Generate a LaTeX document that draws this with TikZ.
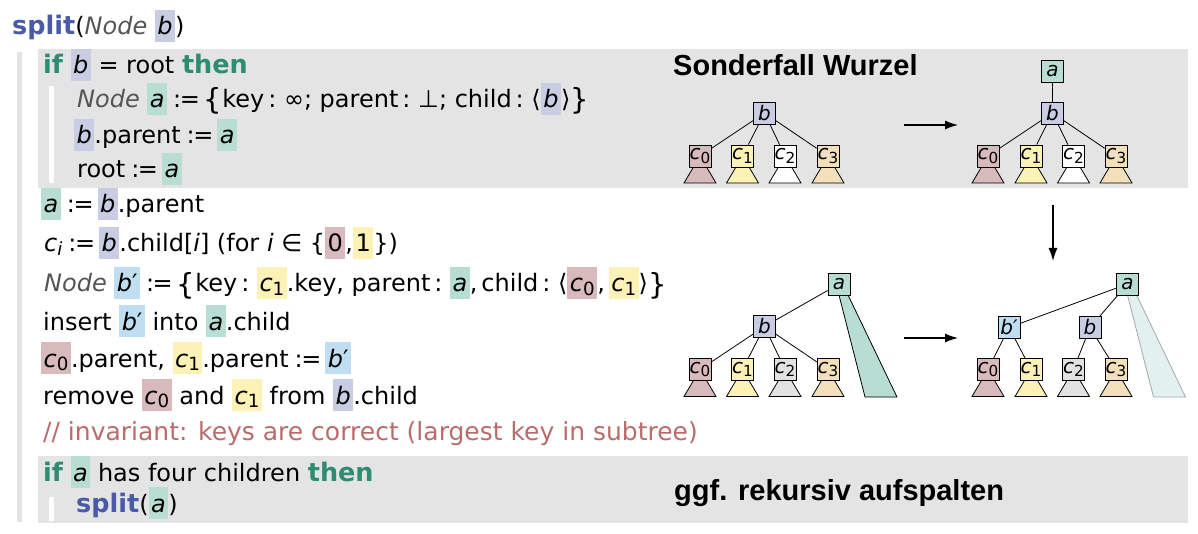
\documentclass[tikz,border=0pt]{standalone}
\usepackage{fontspec}
\usepackage{graphicx}
\setmainfont{DejaVu Sans}
\newfontfamily\titlefont{Liberation Sans}
\usetikzlibrary{arrows.meta,calc}
\definecolor{hlb}{RGB}{200,205,228}
\definecolor{hla}{RGB}{184,222,212}
\definecolor{hlcz}{RGB}{216,186,188}
\definecolor{hlco}{RGB}{252,242,182}
\definecolor{hlct}{RGB}{226,226,226}
\definecolor{hlch}{RGB}{243,223,186}
\definecolor{hlbp}{RGB}{192,222,242}
\definecolor{fadetri}{RGB}{226,240,240}
\definecolor{fadeline}{RGB}{165,170,170}
\definecolor{boxgray}{RGB}{228,228,228}
\definecolor{kwteal}{RGB}{46,140,112}
\definecolor{kwblue}{RGB}{72,90,168}
\definecolor{cmtred}{RGB}{186,108,108}
\definecolor{nodegray}{RGB}{85,85,85}
\newcommand\hl[2]{{\setlength{\fboxsep}{0pt}\colorbox{#1}{\rule[-7pt]{0pt}{32pt}\kern2.5pt#2\kern2.5pt}}}
\newcommand\lowidx[1]{\raisebox{-0.3ex}{\scalebox{0.76}{\upshape #1}}}
\newcommand\kwg[1]{{\fontsize{25.5}{28}\selectfont\bfseries\color{kwteal}#1}}
\newcommand\kwb[1]{{\fontsize{25.5}{28}\selectfont\bfseries\color{kwblue}#1}}
\newcommand\nodekw{{\color{nodegray}\itshape Node}}
\newcommand\assign{\hspace{6pt}:\hspace{-1.5pt}=\hspace{4pt}}
\newcommand\lbr{{\raisebox{-2pt}{\fontsize{29}{29}\selectfont\{}}}
\newcommand\rbr{{\raisebox{-2pt}{\fontsize{29}{29}\selectfont\}}}}
\newcommand\va{\textit{a}}
\newcommand\vb{\textit{b}}
\newcommand\vbp{\textit{b}′}
\newcommand\vc[1]{\textit{c}\lowidx{#1}}
\newcommand\kid[6]{%
  \filldraw[fill=#5,draw=black,line width=0.8pt] (#2,#3) -- ++(-16,27) -- ++(32,0) -- cycle;
  \node[tnode,fill=#4] (#1) at (#2,#3) {#6};}
\begin{document}
\begin{tikzpicture}[x=1pt,y=-1pt,
  code/.style={anchor=base west,inner sep=0pt,font=\fontsize{24}{28}\selectfont},
  ttl/.style={anchor=base west,inner sep=0pt,font=\fontsize{29}{32}\selectfont\titlefont\bfseries},
  tnode/.style={draw=black,line width=0.8pt,minimum width=22pt,minimum height=22pt,inner sep=0pt,font=\fontsize{20}{20}\selectfont\itshape},
  tedge/.style={line width=0.8pt},
  arr/.style={line width=1.3pt,-{Latex[length=13pt,width=9pt]}}]
\useasboundingbox (0,0) rectangle (1198,534);
\fill[white] (0,0) rectangle (1198,534);
% boxes and bars
\fill[boxgray] (38,49) rectangle (1188,188);
\fill[boxgray] (38,456) rectangle (1188,523);
\fill[boxgray] (17,52) rectangle (22,522);
\fill[white] (49,86) rectangle (54,183);
\fill[white] (49,497) rectangle (54,521);
% code lines
\node[code] (l0) at (12,35) {\kwb{split}(\nodekw\ \hl{hlb}{\vb})};
\node[code] (l1) at (43,74) {\kwg{if} \hl{hlb}{\vb} = root \kwg{then}};
\node[code] (l2) at (77,108) {\nodekw\ \hl{hla}{\va}\assign\lbr key\,:\ ∞; parent\,:\ ⊥; child\,:\ ⟨\hl{hlb}{\vb}⟩\rbr};
\node[code] (l3) at (74,144) {\hl{hlb}{\vb}.parent\assign\hl{hla}{\va}};
\node[code] (l4) at (77,178) {root\assign\hl{hla}{\va}};
\node[code] (l5) at (41,213) {\hl{hla}{\va}\assign\hl{hlb}{\vb}.parent};
\node[code] (l6) at (44,252) {\vc{\textit{i}}\assign\hl{hlb}{\vb}.child[\textit{i}] (for \textit{i} ∈ \{\hl{hlcz}{0},\hl{hlco}{1}\})};
\node[code] (l7) at (44,292) {\nodekw\ \hl{hlbp}{\vbp}\assign\lbr key\,:\ \hl{hlco}{\vc{1}}.key, parent\,:\ \hl{hla}{\va},\,child\,:\ ⟨\hl{hlcz}{\vc{0}},\,\hl{hlco}{\vc{1}}⟩\rbr};
\node[code] (l8) at (43,330) {insert \hl{hlbp}{\vbp} into \hl{hla}{\va}.child};
\node[code] (l9) at (41,367) {\hl{hlcz}{\vc{0}}.parent, \hl{hlco}{\vc{1}}.parent\assign\hl{hlbp}{\vbp}};
\node[code] (l10) at (43,404) {remove \hl{hlcz}{\vc{0}} and \hl{hlco}{\vc{1}} from \hl{hlb}{\vb}.child};
\node[code,font=\fontsize{25}{28}\selectfont,text=cmtred] (l11) at (43,440) {// invariant: keys are correct (largest key in subtree)};
\node[code] (l12) at (43,481) {\kwg{if} \hl{hla}{\va} has four children \kwg{then}};
\node[code] (l13) at (76,512) {\kwb{split}(\hl{hla}{\va})};
% titles
\node[ttl] (t1) at (673,76) {Sonderfall Wurzel};
\node[ttl] (t2) at (674,500) {ggf. rekursiv aufspalten};
% tree 1: top left
\kid{A0}{700}{156}{hlcz}{hlcz}{\vc{0}}
\kid{A1}{742.5}{156}{hlco}{hlco}{\vc{1}}
\kid{A2}{785}{156}{white}{white}{\vc{2}}
\kid{A3}{828}{156}{hlch}{hlch}{\vc{3}}
\node[tnode,fill=hlb] (Ab) at (764.5,113) {b};
\foreach \k in {A0,A1,A2,A3} \draw[tedge] (Ab) -- (\k);
% tree 2: top right
\kid{B0}{988}{156}{hlcz}{hlcz}{\vc{0}}
\kid{B1}{1031}{156}{hlco}{hlco}{\vc{1}}
\kid{B2}{1073.5}{156}{white}{white}{\vc{2}}
\kid{B3}{1116}{156}{hlch}{hlch}{\vc{3}}
\node[tnode,fill=hlb] (Bb) at (1052.5,113) {b};
\node[tnode,fill=hla] (Ba) at (1052.5,71) {a};
\foreach \k in {B0,B1,B2,B3} \draw[tedge] (Bb) -- (\k);
\draw[tedge] (Ba) -- (Bb);
% tree 3: bottom left
\filldraw[fill=hla,draw=black,line width=0.8pt] (837.7,290) -- (865,397) -- (897,397) -- (845.6,290) -- cycle;
\kid{C0}{700}{369.5}{hlcz}{hlcz}{\vc{0}}
\kid{C1}{742.5}{369.5}{hlco}{hlco}{\vc{1}}
\kid{C2}{785}{369.5}{hlct}{hlct}{\vc{2}}
\kid{C3}{828}{369.5}{hlch}{hlch}{\vc{3}}
\node[tnode,fill=hlb] (Cb) at (764.5,326.5) {b};
\node[tnode,fill=hla] (Ca) at (839,284) {a};
\foreach \k in {C0,C1,C2,C3} \draw[tedge] (Cb) -- (\k);
\draw[tedge] (Ca) -- (Cb);
% tree 4: bottom right
\filldraw[fill=fadetri,draw=fadeline,line width=0.8pt] (1126.2,290) -- (1153.5,397) -- (1185.5,397) -- (1134.1,290) -- cycle;
\kid{D0}{988}{369.5}{hlcz}{hlcz}{\vc{0}}
\kid{D1}{1031}{369.5}{hlco}{hlco}{\vc{1}}
\kid{D2}{1073.5}{369.5}{hlct}{hlct}{\vc{2}}
\kid{D3}{1116}{369.5}{hlch}{hlch}{\vc{3}}
\node[tnode,fill=hlbp] (Dbp) at (1009,327.5) {b′};
\node[tnode,fill=hlb] (Db) at (1090,327.5) {b};
\node[tnode,fill=hla] (Da) at (1127.5,284) {a};
\draw[tedge] (Dbp) -- (D0);
\draw[tedge] (Dbp) -- (D1);
\draw[tedge] (Db) -- (D2);
\draw[tedge] (Db) -- (D3);
\draw[tedge] (Da) -- (Dbp);
\draw[tedge] (Da) -- (Db);
% arrows
\coordinate (r1s) at (904,125);
\coordinate (r1e) at (958,125);
\coordinate (r2s) at (1053,205);
\coordinate (r2e) at (1053,261);
\coordinate (r3s) at (904,338);
\coordinate (r3e) at (958,338);
\draw[arr] (r1s) -- (r1e);
\draw[arr] (r2s) -- (r2e);
\draw[arr] (r3s) -- (r3e);
\end{tikzpicture}
\end{document}
